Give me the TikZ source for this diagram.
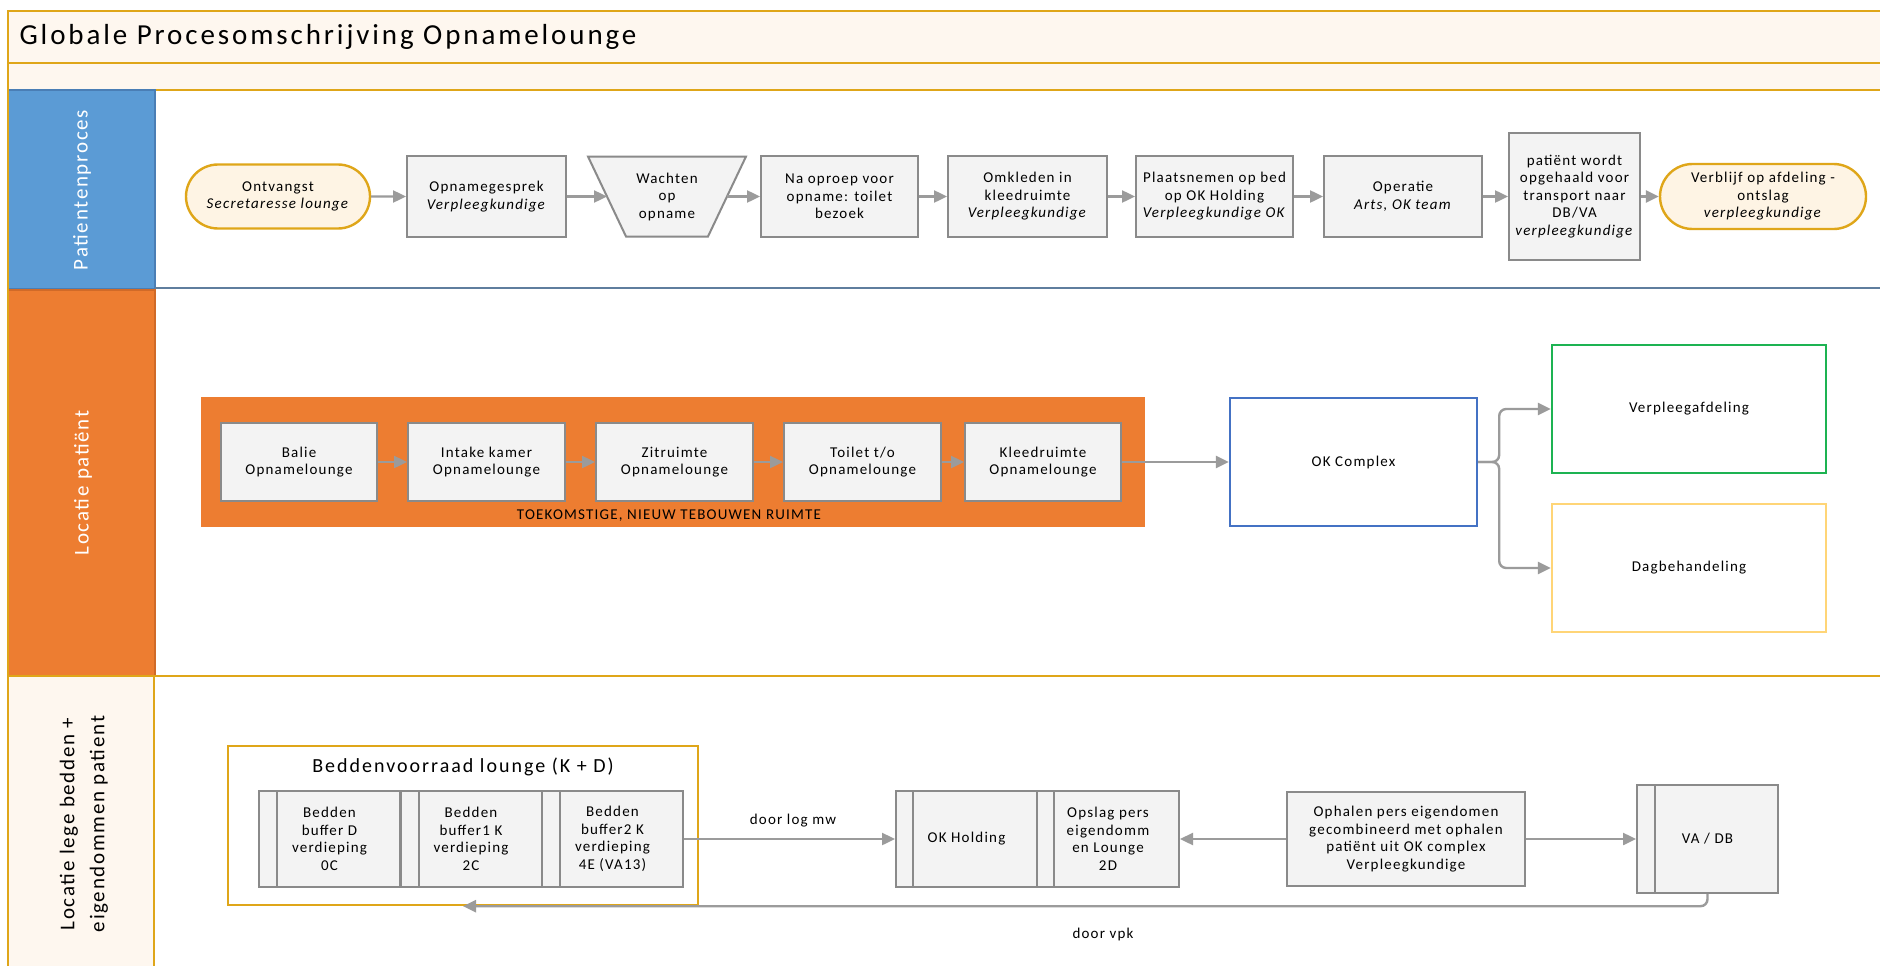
\documentclass[tikz,border=0pt]{standalone}
\usepackage{fontspec}
\setmainfont{Carlito}
\newfontfamily\spaced[LetterSpace=8]{Carlito}
\newfontfamily\widespaced[LetterSpace=10]{Carlito}
\usetikzlibrary{shapes.misc,arrows.meta}

\definecolor{gold}{HTML}{DFA619}
\definecolor{cream}{HTML}{FEF7EF}
\definecolor{termfill}{HTML}{FEF4E4}
\definecolor{laneblue}{HTML}{5B9BD5}
\definecolor{laneblueline}{HTML}{4A7EB5}
\definecolor{laneorange}{HTML}{ED7D31}
\definecolor{laneorangeline}{HTML}{D06A28}
\definecolor{boxfill}{HTML}{F3F3F3}
\definecolor{boxline}{HTML}{8A8A8A}
\definecolor{flowgray}{HTML}{9B9B9B}
\definecolor{okblue}{HTML}{4472C4}
\definecolor{wardgreen}{HTML}{1DB352}
\definecolor{dayyellow}{HTML}{FFD577}
\definecolor{sepblue}{HTML}{5F7E9E}

\pgfdeclarelayer{bg}
\pgfsetlayers{bg,main}

\tikzset{
  txt/.style={font=\spaced\fontsize{15}{17.5}\selectfont},
  procbox/.style={txt, draw=boxline, fill=boxfill, line width=2pt, align=center, inner sep=1pt},
  termbox/.style={txt, rounded rectangle, draw=gold, fill=termfill, line width=2.4pt, align=center, inner sep=1pt},
  areabox/.style={txt, draw, fill=white, line width=2.4pt, align=center},
  flow/.style={draw=flowgray, line width=2.4pt, -{Triangle[length=13pt,width=12pt]}},
  lanetext/.style={rotate=90, align=center, font=\spaced\fontsize{21}{30}\selectfont},
  stripe/.style={draw=boxline, line width=2pt}
}

\begin{document}
\begin{tikzpicture}[x=1pt,y=-1pt]
\useasboundingbox (0,0) rectangle (1880,966);
\clip (0,0) rectangle (1880,966);

% ---------- swimlane frame ----------
\begin{pgfonlayer}{bg}
  \fill[white] (0,0) rectangle (1880,966);
  \draw[gold, line width=2pt, fill=cream] (8,11) rectangle (1900,63);
  \draw[gold, line width=2pt, fill=cream] (8,63) rectangle (1900,90);
  % lane 1
  \draw[laneblueline, line width=1.5pt, fill=laneblue] (8,90) rectangle (155,289);
  \draw[sepblue, line width=2pt] (155,288) -- (1900,288);
  % lane 2
  \draw[laneorangeline, line width=1.5pt, fill=laneorange] (8,290) rectangle (155,676);
  \draw[gold, line width=2pt] (155,676) -- (1900,676);
  % lane 3
  \draw[gold, line width=2pt, fill=cream] (8,676) rectangle (154,1000);
  \draw[gold, line width=1.5pt] (8,11) -- (8,1000);
\end{pgfonlayer}

\node[anchor=west, font=\widespaced\fontsize{29}{34}\selectfont] (title) at (16,37) {Globale Procesomschrijving Opnamelounge};

\node[lanetext, text=white] (laneA) at (82,190) {Patientenproces};
\node[lanetext, text=white] (laneB) at (83,483) {Locatie patiënt};
\node[lanetext] (laneC) at (84,824) {Locatie lege bedden +\\eigendommen patient};

% ---------- lane 1: patient process ----------
\node[termbox, minimum width=186, minimum height=64] (ontv) at (278,196.5) {Ontvangst\\\textit{Secretaresse lounge}};
\node[procbox, minimum width=159, minimum height=81] (opn) at (486.5,196.5) {Opnamegesprek\\\textit{Verpleegkundige}};
\node[txt, align=center, minimum width=120, minimum height=80, inner sep=0pt, outer sep=0pt] (wacht) at (667,196.5) {Wachten\\op\\opname};
\node[procbox, minimum width=157, minimum height=81] (naop) at (839.5,196.5) {Na oproep voor\\opname: toilet\\bezoek};
\node[procbox, minimum width=159, minimum height=81] (omkl) at (1027.5,196.5) {Omkleden in\\kleedruimte\\\textit{Verpleegkundige}};
\node[procbox, minimum width=157, minimum height=81] (plts) at (1214.5,196.5) {Plaatsnemen op bed\\op OK Holding\\\textit{Verpleegkundige OK}};
\node[procbox, minimum width=158, minimum height=81] (oper) at (1403,196.5) {Operatie\\\textit{Arts, OK team}};
\node[procbox, minimum width=131, minimum height=127] (pat) at (1574.5,196.5) {patiënt wordt\\opgehaald voor\\transport naar\\DB/VA\\\textit{verpleegkundige}};
\node[termbox, minimum width=208, minimum height=65] (verbl) at (1763,196.5) {Verblijf op afdeling -\\ontslag\\\textit{verpleegkundige}};

% manual-input shape behind the waiting step
\begin{pgfonlayer}{bg}
  \draw[boxline, line width=2pt, fill=boxfill]
    ([xshift=-19pt]wacht.north west) -- ([xshift=19pt]wacht.north east)
    -- ([xshift=-19pt]wacht.south east) -- ([xshift=19pt]wacht.south west) -- cycle;
\end{pgfonlayer}

\draw[flow] (ontv) -- (opn);
\draw[flow] (opn) -- (wacht);
\draw[flow] (wacht) -- (naop);
\draw[flow] (naop) -- (omkl);
\draw[flow] (omkl) -- (plts);
\draw[flow] (plts) -- (oper);
\draw[flow] (oper) -- (pat);
\draw[flow] (pat) -- (verbl);

% ---------- lane 2: patient location ----------
\node[fill=laneorange, minimum width=944, minimum height=130, inner sep=0pt] (future) at (673,462) {};
\node[txt] (futurelabel) at (669,516) {TOEKOMSTIGE, NIEUW TEBOUWEN RUIMTE};

\node[procbox, minimum width=156, minimum height=78] (balie) at (299,462) {Balie\\Opnamelounge};
\node[procbox, minimum width=157, minimum height=78] (intake) at (486.5,462) {Intake kamer\\Opnamelounge};
\node[procbox, minimum width=157, minimum height=78] (zit) at (674.5,462) {Zitruimte\\Opnamelounge};
\node[procbox, minimum width=157, minimum height=78] (toil) at (862.5,462) {Toilet t/o\\Opnamelounge};
\node[procbox, minimum width=156, minimum height=78] (kleed) at (1043,462) {Kleedruimte\\Opnamelounge};

\node[areabox, draw=okblue, minimum width=247, minimum height=128] (okc) at (1353.5,462) {OK Complex};
\node[areabox, draw=wardgreen, minimum width=274, minimum height=128] (verpl) at (1689,409) {Verpleegafdeling};
\node[areabox, draw=dayyellow, minimum width=274, minimum height=128] (dagb) at (1689,568) {Dagbehandeling};

\draw[flow] (balie) -- (intake);
\draw[flow] (intake) -- (zit);
\draw[flow] (zit) -- (toil);
\draw[flow] (toil) -- (kleed);
\draw[flow] (kleed) -- (okc);
\draw[flow, rounded corners=7pt] (okc.east) -- ++(21,0) |- (verpl.west);
\draw[flow, rounded corners=7pt] (okc.east) -- ++(21,0) |- (dagb.west);

% ---------- lane 3: beds and belongings ----------
\node[draw=gold, fill=white, line width=2.4pt, minimum width=470, minimum height=159, inner sep=0pt] (bedcont) at (463,825.5) {};
\node[font=\widespaced\fontsize{20}{24}\selectfont] (bedtitle) at (463,767) {Beddenvoorraad lounge (K + D)};

\node[procbox, minimum width=141, minimum height=96] (bedA) at (329.5,839) {Bedden\\buffer D\\verdieping\\0C};
\node[procbox, minimum width=141, minimum height=96] (bedB) at (471,839) {Bedden\\buffer1 K\\verdieping\\2C};
\node[procbox, minimum width=141, minimum height=96] (bedC) at (612.5,839) {Bedden\\buffer2 K\\verdieping\\4E (VA13)};
\draw[stripe] ([xshift=19pt]bedA.north west) -- ([xshift=19pt]bedA.south west);
\draw[stripe] ([xshift=19pt]bedB.north west) -- ([xshift=19pt]bedB.south west);
\draw[stripe] ([xshift=19pt]bedC.north west) -- ([xshift=19pt]bedC.south west);

\node[procbox, minimum width=141, minimum height=96] (okh) at (966.5,839) {OK Holding};
\node[procbox, minimum width=142, minimum height=96] (opsl) at (1108,839) {Opslag pers\\eigendomm\\en Lounge\\2D};
\draw[stripe] ([xshift=18pt]okh.north west) -- ([xshift=18pt]okh.south west);
\draw[stripe] ([xshift=18pt]opsl.north west) -- ([xshift=18pt]opsl.south west);

\node[procbox, minimum width=238, minimum height=94] (ophal) at (1406,839) {Ophalen pers eigendomen\\gecombineerd met ophalen\\patiënt uit OK complex\\Verpleegkundige};
\node[procbox, minimum width=141, minimum height=108] (vadb) at (1707.5,839) {VA / DB};
\draw[stripe] ([xshift=19pt]vadb.north west) -- ([xshift=19pt]vadb.south west);

\draw[flow] (bedC) -- (okh);
\node[txt] (logmw) at (793,821) {door log mw};
\draw[flow] (ophal) -- (opsl);
\draw[flow] (ophal) -- (vadb);
\draw[flow, rounded corners=7pt] (vadb.south) |- (bedcont.south);
\node[txt] (vpk) at (1103,934) {door vpk};

\end{tikzpicture}
\end{document}
